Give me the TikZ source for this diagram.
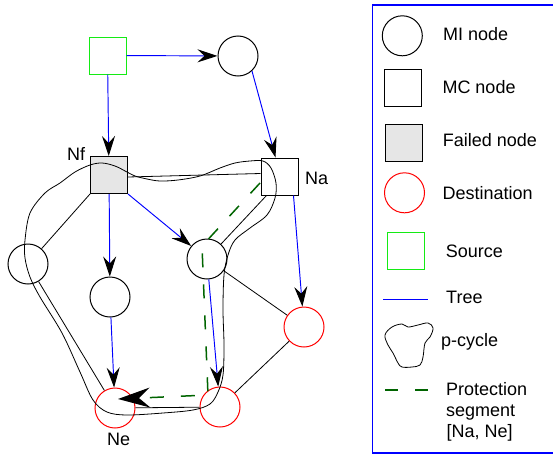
\documentclass[tikz,border=0pt]{standalone}
\usepackage{fontspec}
\setmainfont{Liberation Sans}
\usetikzlibrary{arrows.meta,calc}
\definecolor{failgray}{RGB}{230,230,230}
\definecolor{srcgreen}{RGB}{20,235,20}
\definecolor{protgreen}{RGB}{0,100,0}
\definecolor{treeblue}{RGB}{0,0,255}
\begin{document}
\begin{tikzpicture}[x=1pt,y=-1pt,
  mi/.style={circle,draw=black,line width=1pt,minimum size=40pt,inner sep=0pt,fill=white},
  dest/.style={mi,draw=red},
  mc/.style={rectangle,draw=black,line width=1pt,minimum size=37pt,inner sep=0pt,fill=white},
  failed/.style={mc,fill=failgray},
  srcbox/.style={mc,draw=srcgreen},
  tree/.style={draw=treeblue,line width=0.95pt,-{Stealth[length=20pt,width=13pt,inset=7pt,color=black]}},
  link/.style={draw=black,line width=0.8pt},
  pcyc/.style={draw=black,line width=0.8pt},
  prot/.style={draw=protgreen,line width=1.5pt,dash pattern=on 14pt off 17pt},
  lbl/.style={font=\fontsize{18}{21}\selectfont,inner sep=0pt,anchor=base west}
]
\useasboundingbox (0,0) rectangle (553,455);

% nodes
\node[srcbox] (src) at (107.5,55.5) {};
\node[mi] (top) at (238,56) {};
\node[failed] (Nf) at (109,175) {};
\node[mc] (Na) at (279.5,176.5) {};
\node[mi] (L) at (28,264) {};
\node[mi] (M) at (110,297) {};
\node[mi] (C) at (207,259) {};
\node[dest] (R) at (304,327) {};
\node[dest] (Ne) at (115,408) {};
\node[dest] (B) at (220,407) {};

\node[lbl] (lNf) at (67,160.7) {Nf};
\node[lbl] (lNa) at (305,184.3) {Na};
\node[lbl] (lNe) at (107,445.7) {Ne};

% black links
\draw[link] ($(Nf.east)+(0,2)$) -- ($(Na.west)+(0,-3)$);
\draw[link] (Nf.south west) -- (L);
\draw[link] ($(Na.south west)+(6,0)$) -- (C);
\draw[link] (C) -- (R);
\draw[link] (R) -- (B);
\draw[link] (L) -- (Ne);
\draw[link] (Ne) -- (B);

% tree
\draw[tree] (src) -- (top);
\draw[tree] (src) -- (Nf);
\draw[tree] (top.-47) -- ($(Na.north)+(-4,0)$);
\draw[tree] (Nf.south east) -- (C);
\draw[tree] (Nf) -- (M);
\draw[tree] (M) -- (Ne);
\draw[tree] ($(Na.south east)+(-5,0)$) -- (R);
\draw[tree] (C) -- (B);

% p-cycle
\draw[pcyc] plot[smooth cycle,tension=0.55] coordinates {
 (267,215) (250,228) (235,240) (228,255) (224,275) (223,310) (224,345) (223,375)
 (218,392) (210,404) (193,410) (163,413) (127,415) (107,412) (93,400) (80,372)
 (62,333) (40,297) (30,277) (25,258) (25,240) (30,213) (45,193) (60,183) (75,172)
 (90,165) (102,163) (115,166) (127,172) (135,176) (147,179) (160,181) (178,180)
 (200,176) (220,168) (235,163) (250,161) (263,161) (271,168) (276,183) (275,198)};

% protection segment
\coordinate (d0) at (260,183);
\coordinate (d1) at (202,246);
\coordinate (d2) at (208,395);
\coordinate (dE) at (118,399);
\draw[prot,-{Stealth[length=32pt,width=20pt,inset=11pt,color=black]}] (d0) -- (d1) -- (d2) -- (dE);

% legend
\draw[treeblue,line width=1.3pt] (560,5) -- (372.5,5) -- (372.5,453) -- (560,453);
\node[mi] (kMI) at (402.3,35.8) {};
\node[mc] (kMC) at (402.5,87.5) {};
\node[failed] (kF) at (403.8,143.2) {};
\node[dest] (kD) at (404.5,192.8) {};
\node[srcbox] (kS) at (405.5,251) {};
\fill[treeblue] (382.7,298.6) rectangle (428.3,300.2);
\draw[pcyc] plot[smooth cycle,tension=0.6] coordinates {
 (385,335) (392,327) (402,324) (408,327) (418,325) (428,323) (433,328) (430,337)
 (425,343) (423,357) (420,365) (412,367) (402,367) (398,363) (393,353) (388,345)};
\coordinate (kP1) at (385,390);
\coordinate (kP2) at (428.3,390);
\draw[prot,dash pattern=on 13.3pt off 16.7pt] (kP1) -- (kP2);

\node[lbl] (tMI) at (443,40.7) {MI node};
\node[lbl] (tMC) at (442.3,93.3) {MC node};
\node[lbl] (tF) at (442.7,146.7) {Failed node};
\node[lbl] (tD) at (442.3,199) {Destination};
\node[lbl] (tS) at (445.7,257.3) {Source};
\node[lbl] (tT) at (446,303.3) {Tree};
\node[lbl] (tP) at (441,346.7) {p-cycle};
\node[lbl] (tPr1) at (446,395) {Protection};
\node[lbl] (tPr2) at (446,416.5) {segment};
\node[lbl] (tPr3) at (446.5,437) {[Na, Ne]};
\end{tikzpicture}
\end{document}
